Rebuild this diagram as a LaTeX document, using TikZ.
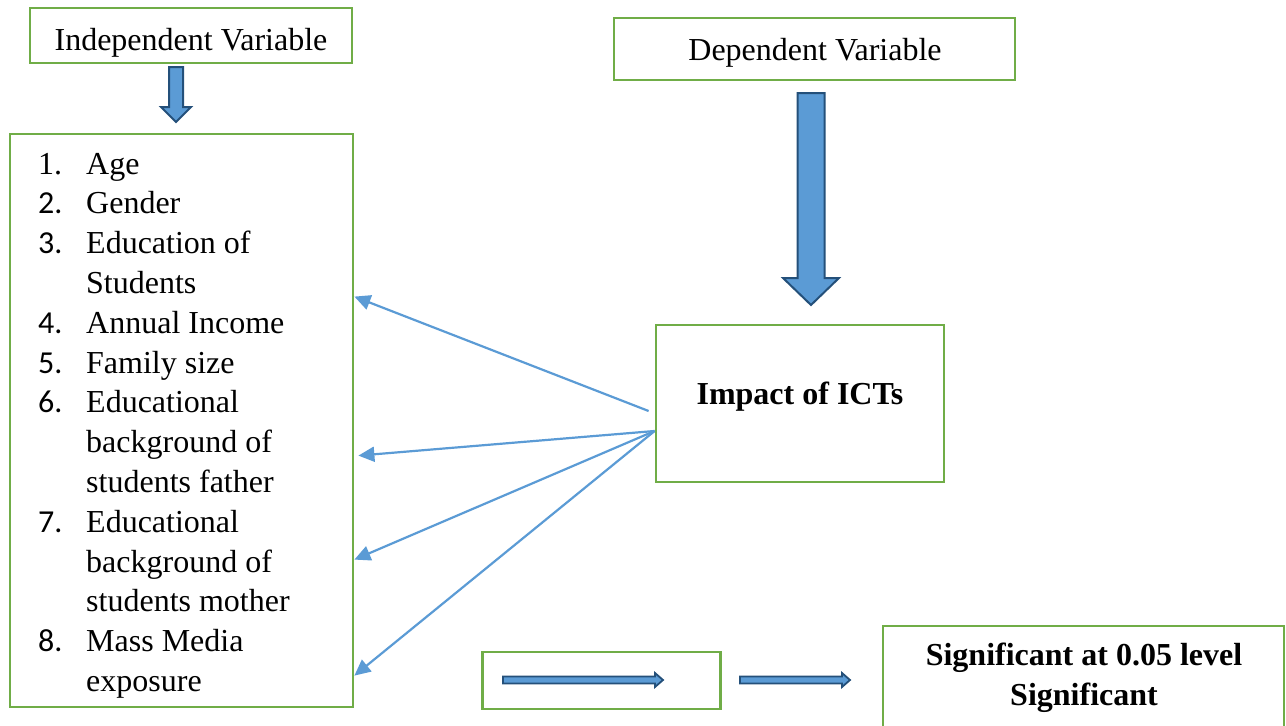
\documentclass[tikz,border=0pt]{standalone}
\usepackage{fontspec}
\setmainfont{Liberation Serif}
\newfontfamily\calfont{Carlito}
\usetikzlibrary{
    arrows.meta,  % arrow tips
    calc,  % coordinate offsets
    positioning,  % relative placement
}
\definecolor{boxgreen}{HTML}{70AD47}
\definecolor{arrowblue}{HTML}{5B9BD5}
\definecolor{edgeblue}{HTML}{24507A}
\tikzset{
    greenbox/.style={draw=boxgreen, line width=2.8pt, inner sep=0pt},
    word/.style={anchor=base, inner sep=0pt, font=\fontsize{32}{39.8}\selectfont},
    fanarrow/.style={draw=arrowblue, line width=2.2pt, -{Triangle[length=16pt,width=15pt]}},
    blockarrow/.style={fill=arrowblue, draw=edgeblue, line width=2pt, line join=miter},
    thinarrow/.style={fill=arrowblue, draw=edgeblue, line width=1.8pt, line join=miter},
}

\begin{document}
\begin{tikzpicture}[x=1pt, y=-1pt]
    \useasboundingbox (0,0) rectangle (1286,726);
    \clip (0,0) rectangle (1286,726);

    % boxes
    \node[greenbox, minimum width=322pt, minimum height=55pt] (indep) at (191,35.5) {};
    \node[greenbox, minimum width=343pt, minimum height=573pt] (list) at (181.5,420.5) {};
    \node[greenbox, minimum width=401pt, minimum height=62pt] (dep) at (814.5,49) {};
    \node[greenbox, minimum width=288pt, minimum height=157pt] (impact) at (800,403.5) {};
    \node[greenbox, minimum width=238pt, minimum height=57pt] (key) at (601.5,680.5) {};
    \node[greenbox, minimum width=401pt, minimum height=130pt] (sig) at (1083.5,691) {};

    % texts
    \node[word] (indeptext) at (191,50) {Independent Variable};
    \node[word] (deptext) at (815,60) {Dependent Variable};
    \node[word, font=\fontsize{32}{39.8}\selectfont\bfseries] (impacttext) at (800,404) {Impact of ICTs};
    \node[word, font=\fontsize{32}{39.8}\selectfont\bfseries] (sigone) at (1084,665) {Significant at 0.05 level};
    \node[word, font=\fontsize{32}{39.8}\selectfont\bfseries] (sigtwo) at (1084,705) {Significant};

    % list of variables
    \foreach \num/\txt [count=\i from 0] in {
        {1.}/Age, {\calfont 2.}/Gender, {\calfont 3.}/Education of, {}/Students,
        {\calfont 4.}/Annual Income, {\calfont 5.}/Family size,
        {\calfont 6.}/Educational, {}/background of, {}/students father,
        {\calfont 7.}/Educational, {}/background of, {}/students mother,
        {\calfont 8.}/Mass Media, {}/exposure} {
        \node[word, anchor=base west] (num\i) at (38,{174+39.8*\i}) {\num};
        \node[word, anchor=base west] (item\i) at (86,{174+39.8*\i}) {\txt};
    }

    % block arrows
    \draw[blockarrow] (169,67) -- (183,67) -- (183,107) -- (191,107) -- (176,122)
        -- (161,107) -- (169,107) -- cycle;
    \draw[blockarrow] (797.5,93) -- (824.5,93) -- (824.5,278) -- (839,278) -- (811,305)
        -- (783,278) -- (797.5,278) -- cycle;
    \draw[thinarrow] (503,676.5) -- (655,676.5) -- (655,673) -- (663,680) -- (655,687)
        -- (655,683.5) -- (503,683.5) -- cycle;
    \draw[thinarrow] (740,676.5) -- (842,676.5) -- (842,673) -- (850,680) -- (842,687)
        -- (842,683.5) -- (740,683.5) -- cycle;

    % connectors from impact to the list
    \coordinate (fantop) at ($(impact.west)+(-6,7.5)$);
    \coordinate (fan) at ($(impact.west)+(0,27.5)$);
    \coordinate (t1) at ($(list.north east)+(0,164)$);
    \coordinate (t2) at ($(list.north east)+(4,323)$);
    \coordinate (t3) at ($(list.north east)+(0,427)$);
    \coordinate (t4) at ($(list.north east)+(0,543)$);
    \draw[fanarrow] (fantop) -- (t1);
    \draw[fanarrow] (fan) -- (t2);
    \draw[fanarrow] (fan) -- (t3);
    \draw[fanarrow] (fan) -- (t4);
\end{tikzpicture}
\end{document}
